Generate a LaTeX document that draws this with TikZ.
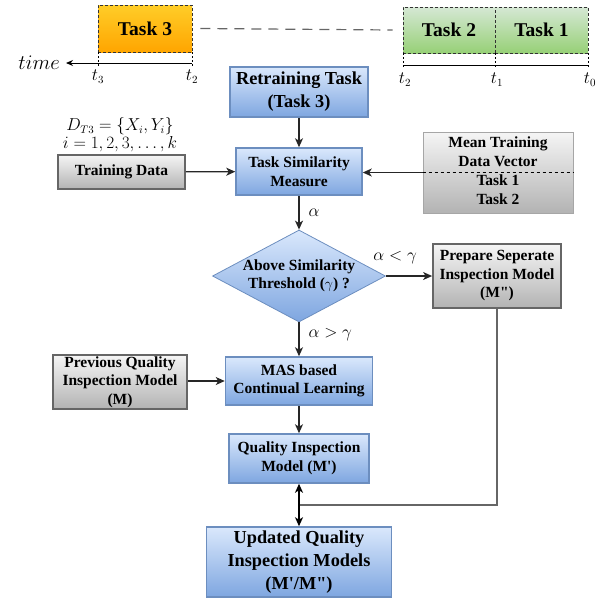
\documentclass[tikz,border=0pt]{standalone}
\usepackage{amsmath,amsfonts,amssymb}
\usepackage[no-math]{fontspec}
\setmainfont{Liberation Serif}
\newfontfamily\boxfont{Liberation Serif}
\usepackage{tikz}
\usetikzlibrary{calc}
\usetikzlibrary{shapes}
\usetikzlibrary{arrows.meta}

\definecolor{blueTop}{HTML}{DAE8FC}
\definecolor{blueBot}{HTML}{7EA6E0}
\definecolor{blueLine}{HTML}{6C8EBF}
\definecolor{grayTop}{HTML}{F5F5F5}
\definecolor{grayBot}{HTML}{B3B3B3}
\definecolor{grayLine}{HTML}{666666}
\definecolor{orangeTop}{HTML}{FFCD28}
\definecolor{orangeBot}{HTML}{FFA500}
\definecolor{greenTop}{HTML}{D5E8D4}
\definecolor{greenBot}{HTML}{97D077}

\tikzset{
    txt/.style={align=center, inner sep=0pt, font=\fontsize{15.5}{18.5}\selectfont\boxfont\bfseries},
    bigtxt/.style={font=\fontsize{18.3}{23}\selectfont\boxfont\bfseries},
    box/.style={txt, draw, rectangle},
    bluebox/.style={box, draw=blueLine, line width=1.5pt, top color=blueTop, bottom color=blueBot},
    graybox/.style={box, draw=grayLine, line width=1.8pt, top color=grayTop, bottom color=grayBot},
    taskbox/.style={box, draw=black!80, line width=0.8pt, dash pattern=on 3pt off 2pt,
        minimum height=46pt, font=\fontsize{19.5}{22}\selectfont\boxfont\bfseries},
    flow/.style={-{Stealth[length=9pt,width=8pt,inset=2.5pt]}, line width=1.3pt, draw=black!85},
    lbl/.style={inner sep=1pt, font=\fontsize{16}{18}\selectfont},
}

\begin{document}
\begin{tikzpicture}[x=1pt,y=-1pt]
        \useasboundingbox (0,0) rectangle (601,598);
        % time line
        \node[taskbox, top color=orangeTop, bottom color=orangeBot, minimum width=94pt, minimum height=47pt] (task3) at (145,28.5) {Task 3};
        \node[taskbox, top color=greenTop, bottom color=greenBot, minimum width=92pt] (task2) at (449,30) {Task 2};
        \node[taskbox, top color=greenTop, bottom color=greenBot, minimum width=93pt] (task1) at (541.5,30) {Task 1};
        \draw[grayLine, line width=1.2pt, dash pattern=on 10pt off 7pt] ([xshift=8pt]task3.east) -- ([xshift=-10pt]task2.west);
        \coordinate (tend) at (66,63);
        \draw[line width=1pt, -{Stealth[length=7pt,width=6pt]}] (192,63) -- (tend);
        \node[lbl, anchor=east, xshift=-5pt, font=\fontsize{21}{24}\selectfont] (timelbl) at (tend) {$time$};
        \foreach \xx/\nm in {98/3, 192/2} {
            \draw[dash pattern=on 2pt off 2pt] (\xx,52) -- (\xx,66);
            \node[lbl, anchor=north] (tl\nm) at (\xx,69) {$t_\nm$};}
        \draw[line width=1pt] (403,65) -- (588,65);
        \foreach \xx/\nm in {403/2, 495/1, 588/0} {
            \draw[dash pattern=on 2pt off 2pt] (\xx,53) -- (\xx,68);
            \node[lbl, anchor=north] (tr\nm) at (\xx+2,72) {$t_\nm$};}
        % flow
        \node[bluebox, bigtxt, minimum width=138pt, minimum height=50pt] (retrain) at (299,92) {Retraining Task\\(Task 3)};
        \node[bluebox, minimum width=126pt, minimum height=47pt] (simil) at (299,171.5) {Task Similarity\\Measure};
        \node[graybox, minimum width=127pt, minimum height=34pt] (train) at (121.5,172) {Training Data};
        \node[lbl, align=center, anchor=south] (dset) at (120,153) {$D_{T3}=\{X_i,Y_i\}$\\$i=1,2,3,\dots,k$};
        \node[box, draw=black!35, line width=1pt, top color=grayTop, bottom color=grayBot, minimum width=150pt, minimum height=81pt] (meanvec) at (498,172.5) {};
        \draw[dashed, line width=0.8pt] (meanvec.west) -- (meanvec.east);
        \node[txt, anchor=south] (meanhead) at ([yshift=6pt]meanvec.center) {Mean Training\\Data Vector};
        \node[txt, anchor=north] (meantask) at ([yshift=-2.5pt]meanvec.center) {Task 1\\Task 2};
        \node[diamond, draw=blueLine, line width=0.8pt, top color=blueTop, bottom color=blueBot, minimum width=173pt, minimum height=92pt, inner sep=0pt] (thresh) at (299,276) {};
        \node[txt] (threshtxt) at (thresh) {Above Similarity\\Threshold ($\gamma$) ?};
        \node[graybox, minimum width=128pt, minimum height=64pt] (prep) at (497,276) {Prepare Seperate\\Inspection Model\\(M")};
        \node[graybox, minimum width=134pt, minimum height=54pt] (prev) at (120,382) {Previous Quality\\Inspection Model\\(M)};
        \node[bluebox, minimum width=147pt, minimum height=48pt] (mas) at (299,381) {MAS based\\Continual Learning};
        \node[bluebox, minimum width=140pt, minimum height=49pt] (qim) at (299,458.5) {Quality Inspection\\Model (M')};
        \node[bluebox, bigtxt, minimum width=185pt, minimum height=70pt] (upd) at (299,562) {Updated Quality\\Inspection Models\\(M'/M")};
        \draw[flow] (retrain) -- (simil);
        \draw[flow] (train) -- (simil);
        \draw[flow] (meanvec.west) -- (meanvec.west -| simil.east);
        \draw[flow] (simil) -- node[lbl, right=8pt, pos=0.5] (alph) {$\alpha$} (thresh);
        \draw[flow] (thresh) -- node[lbl, above=10pt, pos=0.2] (alphlt) {$\alpha<\gamma$} (prep);
        \draw[flow] (thresh) -- node[lbl, right=8pt, pos=0.35] (alphgt) {$\alpha>\gamma$} (mas);
        \draw[flow] (prev.east |- mas.west) -- (mas);
        \draw[flow] (mas) -- (qim);
        \coordinate (merge) at ($(qim.south)!0.5!(upd.north)$);
        \draw[grayLine, line width=1.2pt] (prep.south) |- (merge);
        \draw[{Stealth[length=9pt,width=8pt,inset=2.5pt]}-{Stealth[length=9pt,width=8pt,inset=2.5pt]}, line width=1.6pt] (qim) -- (upd);
\end{tikzpicture}
\end{document}
